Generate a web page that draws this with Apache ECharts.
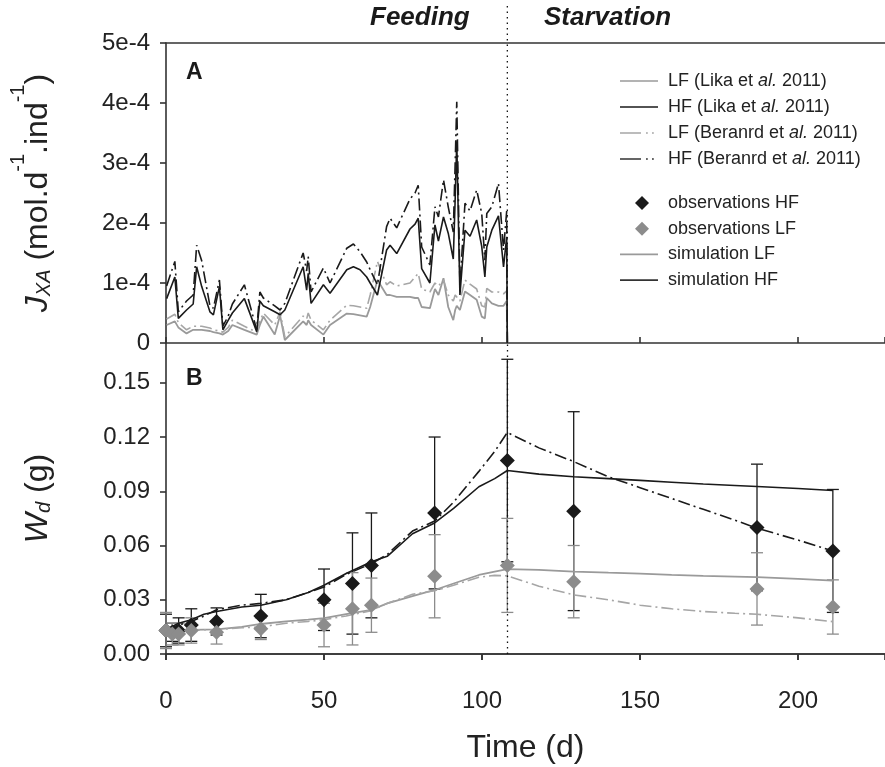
<!DOCTYPE html>
<html><head><meta charset="utf-8">
<script src="https://cdn.jsdelivr.net/npm/echarts@6/dist/echarts.min.js"></script>
<style>html,body{margin:0;padding:0;background:#fff}#c{width:885px;height:767px}</style>
</head><body><div id="c"></div>
<script>
// ---- Panel A: ingestion rate J_XA (values in units of 1e-4 mol.d-1.ind-1)
const feedTime = [0.2,2.8,3.9,6.5,8.6,9.7,11.3,13.9,15.0,16.9,18.0,19.7,21.0,24.8,28.7,29.7,30.8,34.4,36.1,37.6,43.4,44.5,45.0,45.9,49.8,51.9,57.2,59.3,61.4,63.5,64.6,66.9,69.8,70.9,73.0,77.2,78.8,79.8,80.9,83.5,85.1,86.2,87.8,89.3,90.9,91.5,92.0,93.0,94.6,96.2,98.3,99.9,100.9,101.5,103.1,105.2,106.8,107.8,108];
const jxaHFLika = [0.74,1.10,0.41,0.55,0.65,1.27,0.94,0.52,0.47,0.94,0.22,0.38,0.50,0.74,0.19,0.70,0.62,0.52,0.47,0.55,1.27,0.88,1.16,0.66,0.97,0.83,1.22,1.27,1.22,1.10,1.00,0.80,1.55,1.63,1.49,1.90,1.98,2.08,1.24,1.00,1.97,1.70,2.10,1.83,1.40,2.40,3.36,0.80,1.88,1.78,2.05,1.61,1.10,1.60,1.88,2.12,1.27,1.77,0];
const jxaHFBernard = [0.95,1.36,0.52,0.70,0.80,1.63,1.37,0.62,0.58,1.05,0.28,0.45,0.65,0.97,0.22,0.85,0.75,0.62,0.55,0.66,1.50,1.20,1.44,0.85,1.25,1.00,1.58,1.65,1.52,1.35,1.22,0.97,1.94,2.08,1.92,2.40,2.50,2.63,1.60,1.30,2.27,2.10,2.72,2.27,1.85,3.00,4.02,0.95,2.33,2.20,2.55,2.16,1.38,2.16,2.27,2.66,1.55,2.20,0];
const jxaLFLika = [0.30,0.36,0.26,0.16,0.22,0.22,0.22,0.20,0.18,0.16,0.14,0.20,0.30,0.22,0.14,0.30,0.44,0.14,0.46,0.05,0.36,0.30,0.38,0.30,0.14,0.30,0.49,0.48,0.46,0.44,0.60,1.05,0.80,0.80,0.77,0.77,0.75,0.75,0.60,0.58,0.90,0.80,1.08,0.60,0.38,0.55,0.62,0.55,0.86,0.80,0.72,0.44,0.41,0.75,0.66,0.62,0.62,0.70,0];
const jxaLFBernard = [0.40,0.48,0.34,0.22,0.28,0.28,0.28,0.25,0.22,0.20,0.18,0.26,0.38,0.28,0.18,0.36,0.50,0.30,0.52,0.10,0.45,0.40,0.50,0.38,0.22,0.38,0.63,0.62,0.60,0.58,0.80,1.36,0.97,1.02,0.95,1.00,1.10,1.16,0.90,0.85,1.00,0.95,1.05,0.80,0.70,0.80,0.80,0.70,1.05,0.98,0.90,0.62,0.60,0.91,0.85,0.85,0.82,0.87,0];

// ---- Panel B: dry weight W_d (g)
const obsTime = [0,2,4,8,16,30,50,59,65,85,108,129,187,211];
const obsHF   = [0.013,0.012,0.013,0.016,0.018,0.021,0.030,0.039,0.049,0.078,0.107,0.079,0.070,0.057];
const obsHFsd = [0.009,0.005,0.007,0.009,0.0075,0.012,0.017,0.028,0.029,0.042,0.056,0.055,0.035,0.034];
const obsLF   = [0.013,0.011,0.011,0.013,0.012,0.014,0.016,0.025,0.027,0.043,0.049,0.040,0.036,0.026];
const obsLFsd = [0.010,0.006,0.006,0.007,0.0065,0.006,0.012,0.020,0.015,0.023,0.026,0.020,0.020,0.015];

const simTime = [0,4,8,12,16,24,30,38,45,50,57,65,70,78,85,91,99,104,108,118,129,140,150,160,170,180,187,200,211];
const simHFLika = [0.0135,0.017,0.019,0.022,0.0235,0.026,0.027,0.030,0.034,0.038,0.0445,0.051,0.054,0.0665,0.0725,0.0805,0.0925,0.097,0.1015,0.0995,0.098,0.097,0.096,0.095,0.094,0.0932,0.0926,0.0915,0.0904];
const simHFBernard = [0.0135,0.016,0.018,0.021,0.0245,0.027,0.028,0.030,0.034,0.037,0.044,0.050,0.055,0.068,0.0735,0.084,0.101,0.112,0.1225,0.114,0.1064,0.098,0.092,0.086,0.080,0.074,0.0696,0.063,0.057];
const simLFLika = [0.0129,0.013,0.0133,0.0135,0.0136,0.015,0.0166,0.018,0.019,0.0198,0.022,0.0244,0.028,0.032,0.0354,0.039,0.0437,0.0455,0.0469,0.0465,0.0456,0.045,0.0445,0.0438,0.0432,0.0428,0.0425,0.0415,0.0406];
const simLFBernard = [0.0129,0.013,0.0133,0.0134,0.0135,0.0145,0.015,0.017,0.018,0.019,0.021,0.024,0.028,0.033,0.035,0.038,0.0425,0.0435,0.0432,0.0375,0.0327,0.030,0.027,0.025,0.0235,0.0225,0.022,0.020,0.0179];

const endFeeding = 108;

// ---- tick labels
const jxaTicks = ['0','1e-4','2e-4','3e-4','4e-4','5e-4'];
const wdTicks = ['0.00','0.03','0.06','0.09','0.12','0.15'];
const timeTicks = ['0','50','100','150','200'];

const BLACK = '#1a1a1a', GREY = '#9a9a9a', DGREY = '#8c8c8c';
const FONT = 'Liberation Sans';
const DASHDOT = [12, 4, 2, 4];
const AX = {color:'#333', width:1.6};

const pairs = (t, v, s) => t.map((x, i) => [x, v[i] * (s || 1)]);
const errData = (m, sd) => obsTime.map((t, i) => [t, m[i] - sd[i], m[i] + sd[i]]);
function errBar(color) {
  return function (params, api) {
    const x = api.value(0);
    const lo = api.coord([x, api.value(1)]), hi = api.coord([x, api.value(2)]);
    const w = 6, st = {stroke: color, lineWidth: 1.3};
    return {type: 'group', children: [
      {type: 'line', shape: {x1: lo[0], y1: lo[1], x2: hi[0], y2: hi[1]}, style: st},
      {type: 'line', shape: {x1: lo[0]-w, y1: lo[1], x2: lo[0]+w, y2: lo[1]}, style: st},
      {type: 'line', shape: {x1: hi[0]-w, y1: hi[1], x2: hi[0]+w, y2: hi[1]}, style: st}
    ]};
  };
}
// legend icons (38 x 14 box)
const BOX = 'M0,0M38,14';
const diamondIcon = 'path://' + BOX + 'M22,0L29,7L22,14L15,7Z';
const solidIcon = 'path://' + BOX + 'M0,6.2L38,6.2L38,7.8L0,7.8Z';
const dashDotIcon = 'path://' + BOX + 'M0,6.2L21,6.2L21,7.8L0,7.8ZM26,6.2L27.8,6.2L27.8,7.8L26,7.8ZM32,6.2L33.8,6.2L33.8,7.8L32,7.8Z';

const chart = echarts.init(document.getElementById('c'), null, {renderer: 'canvas'});
const legendText = {fontFamily: FONT, fontSize: 18, color: '#222',
  rich: {g: {width: 5, fontSize: 18}, i: {fontStyle: 'italic', fontSize: 18, fontFamily: FONT, color: '#222'}}};
const legendFmt = name => '{g| }' + name.replace('al.', '{i|al.}');

const NF = 32;
const nameRich = {
  it: {fontStyle: 'italic', fontSize: NF, lineHeight: 46, verticalAlign: 'bottom', fontFamily: FONT, color: '#222'},
  n: {fontSize: NF, lineHeight: 46, verticalAlign: 'bottom', fontFamily: FONT, color: '#222'},
  sub: {fontStyle: 'italic', fontSize: 20, lineHeight: 21, verticalAlign: 'bottom', fontFamily: FONT, color: '#222'},
  sup: {fontSize: 20, lineHeight: 21, verticalAlign: 'top', fontFamily: FONT, color: '#222'}
};

const option = {
  backgroundColor: '#fff',
  animation: false,
  textStyle: {fontFamily: FONT},
  grid: [
    {left: 166, top: 43, right: 0, height: 300},
    {left: 166, top: 343, right: 0, height: 311}
  ],
  xAxis: [
    {gridIndex: 0, type: 'value', min: 0, max: 227.5, interval: 50, position: 'bottom',
     axisLine: {show: true, lineStyle: AX}, axisTick: {show: true, inside: true, length: 6, lineStyle: AX},
     axisLabel: {show: false}, splitLine: {show: false}},
    {gridIndex: 0, type: 'value', min: 0, max: 227.5, interval: 50, position: 'top',
     axisLine: {show: true, lineStyle: AX}, axisTick: {show: false}, axisLabel: {show: false}, splitLine: {show: false}},
    {gridIndex: 1, type: 'value', min: 0, max: 227.5, interval: 50, position: 'top',
     axisLine: {show: true, lineStyle: AX}, axisTick: {show: true, inside: true, length: 6, lineStyle: AX},
     axisLabel: {show: false}, splitLine: {show: false}},
    {gridIndex: 1, type: 'value', min: 0, max: 227.5, interval: 50, position: 'bottom',
     axisLine: {show: true, lineStyle: AX}, axisTick: {show: true, length: 6, lineStyle: AX},
     axisLabel: {fontSize: 24, color: '#222', fontFamily: FONT, margin: 35, showMaxLabel: false,
       formatter: v => (Math.abs(v/50 - Math.round(v/50)) < 1e-6 ? (timeTicks[Math.round(v/50)] || '') : '')},
     splitLine: {show: false},
     name: 'Time (d)', nameLocation: 'middle', nameGap: 78,
     nameTextStyle: {fontSize: NF, color: '#222', fontFamily: FONT}}
  ],
  yAxis: [
    {gridIndex: 0, type: 'value', min: 0, max: 5e-4, interval: 1e-4,
     axisLine: {show: true, lineStyle: AX}, axisTick: {show: true, length: 6, lineStyle: AX},
     axisLabel: {fontSize: 24, color: '#222', fontFamily: FONT, margin: 16,
       formatter: v => jxaTicks[Math.round(v / 1e-4)] || ''},
     splitLine: {show: false},
     name: '{it|J}{sub|XA}{n| (mol.d}{sup|-1}{n|.ind}{sup|-1}{n|)}', nameLocation: 'middle', nameGap: 112, nameRotate: 90,
     nameTextStyle: {fontSize: NF, color: '#222', fontFamily: FONT, rich: nameRich}},
    {gridIndex: 1, type: 'value', min: 0, max: 0.172, interval: 0.03,
     axisLine: {show: true, lineStyle: AX}, axisTick: {show: true, length: 6, lineStyle: AX},
     axisLabel: {fontSize: 24, color: '#222', fontFamily: FONT, margin: 16, showMaxLabel: false,
       formatter: v => (Math.abs(v/0.03 - Math.round(v/0.03)) < 1e-6 ? (wdTicks[Math.round(v/0.03)] || '') : '')},
     splitLine: {show: false},
     name: '{it|W}{sub|d}{n| (g)}', nameLocation: 'middle', nameGap: 112, nameRotate: 90,
     nameTextStyle: {fontSize: NF, color: '#222', fontFamily: FONT, rich: nameRich}}
  ],
  legend: [
    {orient: 'vertical', left: 615, top: 67, itemWidth: 38, itemHeight: 14, itemGap: 8, selectedMode: false,
     data: [{name: 'LF (Lika et al. 2011)', icon: solidIcon}, {name: 'HF (Lika et al. 2011)', icon: solidIcon},
            {name: 'LF (Beranrd et al. 2011)', icon: dashDotIcon}, {name: 'HF (Beranrd et al. 2011)', icon: dashDotIcon}],
     formatter: legendFmt, textStyle: legendText},
    {orient: 'vertical', left: 615, top: 189, itemWidth: 38, itemHeight: 14, itemGap: 7.7, selectedMode: false,
     data: [{name: 'observations HF', icon: diamondIcon}, {name: 'observations LF', icon: diamondIcon},
            {name: 'simulation LF', icon: solidIcon}, {name: 'simulation HF', icon: solidIcon}],
     formatter: legendFmt, textStyle: legendText}
  ],
  graphic: [
    {type: 'text', left: 370, top: 5, style: {text: 'Feeding', font: 'italic bold 26px "Liberation Sans"', fill: '#1a1a1a'}},
    {type: 'text', left: 544, top: 5, style: {text: 'Starvation', font: 'italic bold 26px "Liberation Sans"', fill: '#1a1a1a'}},
    {type: 'text', left: 186, top: 61, style: {text: 'A', font: 'bold 23px "Liberation Sans"', fill: '#1a1a1a'}},
    {type: 'text', left: 186, top: 367, style: {text: 'B', font: 'bold 23px "Liberation Sans"', fill: '#1a1a1a'}}
  ],
  series: [
    // phase separator in panel A, extended above the frame
    {type: 'custom', xAxisIndex: 0, yAxisIndex: 0, silent: true, clip: false, z: 1,
     data: [[endFeeding]],
     renderItem: (params, api) => {
       const b = api.coord([api.value(0), 0]), t = api.coord([api.value(0), 5e-4]);
       return {type: 'line', shape: {x1: b[0], y1: b[1], x2: t[0], y2: t[1] - 38},
         style: {stroke: '#111', lineWidth: 1.3, lineDash: [1.5, 4]}};
     }},
    {name: 'LF (Lika et al. 2011)', type: 'line', xAxisIndex: 0, yAxisIndex: 0, showSymbol: false, symbol: 'none',
     data: pairs(feedTime, jxaLFLika, 1e-4), color: GREY, lineStyle: {color: GREY, width: 1.8}, z: 3},
    {name: 'LF (Beranrd et al. 2011)', type: 'line', xAxisIndex: 0, yAxisIndex: 0, showSymbol: false, symbol: 'none',
     data: pairs(feedTime, jxaLFBernard, 1e-4), color: '#a6a6a6', lineStyle: {color: '#a6a6a6', width: 1.6, type: DASHDOT}, z: 3},
    {name: 'HF (Lika et al. 2011)', type: 'line', xAxisIndex: 0, yAxisIndex: 0, showSymbol: false, symbol: 'none',
     data: pairs(feedTime, jxaHFLika, 1e-4), color: BLACK, lineStyle: {color: BLACK, width: 1.6}, z: 4},
    {name: 'HF (Beranrd et al. 2011)', type: 'line', xAxisIndex: 0, yAxisIndex: 0, showSymbol: false, symbol: 'none',
     data: pairs(feedTime, jxaHFBernard, 1e-4), color: '#333', lineStyle: {color: BLACK, width: 1.6, type: DASHDOT}, z: 4},

    // panel B
    {name: 'errHF', type: 'custom', xAxisIndex: 3, yAxisIndex: 1, silent: true, z: 2,
     encode: {x: 0, y: [1, 2]}, data: errData(obsHF, obsHFsd), renderItem: errBar(BLACK)},
    {name: 'errLF', type: 'custom', xAxisIndex: 3, yAxisIndex: 1, silent: true, z: 2,
     encode: {x: 0, y: [1, 2]}, data: errData(obsLF, obsLFsd), renderItem: errBar(DGREY)},
    {name: 'simulation LF', type: 'line', xAxisIndex: 3, yAxisIndex: 1, showSymbol: false, symbol: 'none',
     data: pairs(simTime, simLFLika), color: GREY, lineStyle: {color: GREY, width: 1.8}, z: 3},
    {name: 'LF (Beranrd et al. 2011)', type: 'line', xAxisIndex: 3, yAxisIndex: 1, showSymbol: false, symbol: 'none',
     data: pairs(simTime, simLFBernard), color: '#a6a6a6', lineStyle: {color: '#a6a6a6', width: 1.6, type: DASHDOT}, z: 3},
    {name: 'simulation HF', type: 'line', xAxisIndex: 3, yAxisIndex: 1, showSymbol: false, symbol: 'none',
     data: pairs(simTime, simHFLika), color: '#333', lineStyle: {color: BLACK, width: 1.6}, z: 4},
    {name: 'HF (Beranrd et al. 2011)', type: 'line', xAxisIndex: 3, yAxisIndex: 1, showSymbol: false, symbol: 'none',
     data: pairs(simTime, simHFBernard), color: '#333', lineStyle: {color: BLACK, width: 1.6, type: DASHDOT}, z: 4},
    {name: 'observations HF', type: 'scatter', xAxisIndex: 3, yAxisIndex: 1, symbol: 'diamond', symbolSize: 15,
     data: pairs(obsTime, obsHF), itemStyle: {color: BLACK, opacity: 1}, z: 6,
     markLine: {silent: true, symbol: 'none', label: {show: false},
       lineStyle: {color: '#111', width: 1.3, type: [1.5, 4]}, data: [{xAxis: endFeeding}]}},
    {name: 'observations LF', type: 'scatter', xAxisIndex: 3, yAxisIndex: 1, symbol: 'diamond', symbolSize: 15,
     data: pairs(obsTime, obsLF), itemStyle: {color: DGREY, opacity: 1}, z: 6}
  ]
};
chart.setOption(option);
</script>
</body></html>
